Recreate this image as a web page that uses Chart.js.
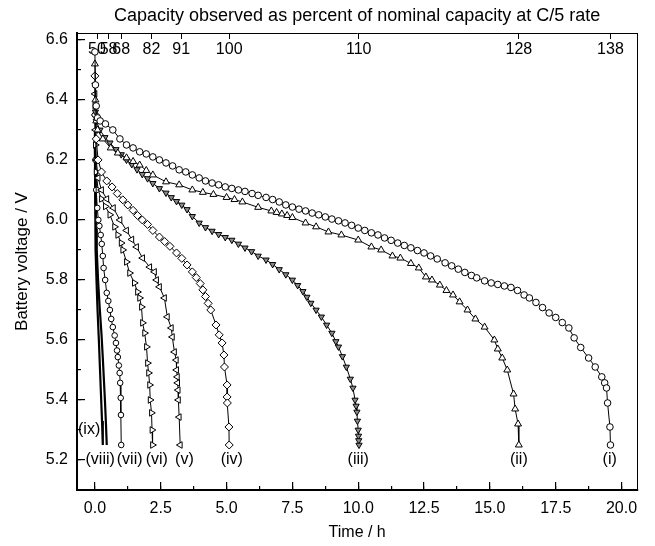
<!DOCTYPE html>
<html><head><meta charset="utf-8">
<script src="https://cdn.jsdelivr.net/npm/chart.js@4.4.0/dist/chart.umd.min.js"></script>
<style>html,body{margin:0;padding:0;background:#fff;}canvas{display:block;}</style>
</head><body>
<canvas id="c" width="655" height="546"></canvas>
<script>
// ---- data (time / h, voltage / V) ----
const t1 = [0,0.02,0.05,0.1,0.2,0.4,0.68,0.95,1.2,1.45,1.7,1.95,2.2,2.45,2.7,2.95,3.2,3.45,3.7,3.96,4.2,4.45,4.7,4.95,5.2,5.45,5.7,5.97,6.2,6.5,6.75,7.0,7.25,7.5,7.75,8.0,8.25,8.5,8.75,9.0,9.25,9.5,9.75,10.0,10.25,10.5,10.75,11.0,11.25,11.5,11.75,12.0,12.25,12.5,12.75,13.0,13.3,13.55,13.8,14.05,14.3,14.5,14.8,15.05,15.3,15.55,15.8,16.05,16.3,16.5,16.75,17.0,17.25,17.5,17.75,18.0,18.2,18.45,18.75,19.0,19.25,19.36,19.43,19.47,19.56,19.58];
const v1 = [6.56,6.45,6.38,6.34,6.33,6.32,6.30,6.27,6.25,6.24,6.227,6.22,6.21,6.2,6.19,6.18,6.167,6.16,6.15,6.14,6.13,6.123,6.117,6.11,6.105,6.1,6.095,6.088,6.082,6.075,6.068,6.06,6.05,6.043,6.036,6.03,6.023,6.017,6.01,6.003,5.997,5.99,5.982,5.973,5.965,5.957,5.95,5.94,5.932,5.923,5.915,5.907,5.898,5.89,5.88,5.87,5.857,5.847,5.836,5.825,5.815,5.807,5.797,5.79,5.785,5.78,5.775,5.765,5.75,5.74,5.725,5.708,5.69,5.675,5.658,5.64,5.607,5.575,5.54,5.51,5.477,5.457,5.44,5.39,5.31,5.25];

const t2 = [0,0.02,0.05,0.1,0.3,0.6,0.87,1.2,1.45,1.7,1.95,2.2,2.7,3.2,3.7,4.1,4.5,5.0,5.3,5.6,6.2,6.7,6.9,7.1,7.3,7.5,8.0,8.4,8.87,9.36,10.0,10.5,10.87,11.3,11.6,12.0,12.3,12.57,12.8,13.1,13.35,13.6,13.85,14.15,14.45,14.8,15.17,15.3,15.47,15.66,15.9,15.96,16.07,16.1];
const v2 = [6.52,6.4,6.33,6.3,6.27,6.24,6.223,6.207,6.195,6.183,6.165,6.15,6.127,6.117,6.1,6.092,6.085,6.075,6.068,6.06,6.042,6.03,6.025,6.02,6.015,6.008,5.99,5.977,5.96,5.95,5.933,5.91,5.9,5.88,5.873,5.855,5.84,5.81,5.8,5.783,5.765,5.75,5.727,5.7,5.67,5.643,5.6,5.57,5.54,5.5,5.42,5.37,5.32,5.25];

const t3 = [0,0.02,0.05,0.19,0.38,0.57,0.8,1.0,1.2,1.4,1.6,1.8,2.0,2.2,2.45,2.7,2.9,3.1,3.3,3.5,3.7,3.96,4.2,4.45,4.7,4.95,5.2,5.45,5.7,5.95,6.2,6.5,6.75,7.0,7.25,7.5,7.7,7.9,8.05,8.2,8.4,8.6,8.8,9.0,9.15,9.25,9.4,9.55,9.7,9.8,9.88,9.92,9.95,9.97,10.0,10.01,10.02,10.03];
const v3 = [6.45,6.36,6.33,6.3,6.275,6.257,6.235,6.218,6.2,6.185,6.168,6.152,6.138,6.122,6.105,6.09,6.075,6.062,6.05,6.035,6.012,5.99,5.975,5.963,5.952,5.942,5.933,5.92,5.907,5.895,5.88,5.867,5.852,5.835,5.818,5.8,5.782,5.762,5.743,5.723,5.7,5.677,5.65,5.623,5.595,5.577,5.545,5.51,5.47,5.44,5.4,5.38,5.36,5.33,5.3,5.28,5.265,5.25];

const t4 = [0,0.02,0.05,0.12,0.25,0.45,0.65,0.85,1.06,1.25,1.45,1.62,1.8,2.0,2.2,2.45,2.65,2.85,3.1,3.3,3.5,3.7,3.85,4.0,4.1,4.2,4.3,4.4,4.6,4.72,4.83,4.9,4.92,5.02,5.02,5.03,5.09,5.1];
const v4 = [6.48,6.35,6.27,6.2,6.16,6.13,6.11,6.088,6.067,6.05,6.032,6.015,6.0,5.985,5.965,5.943,5.928,5.912,5.89,5.872,5.85,5.827,5.808,5.788,5.767,5.745,5.722,5.7,5.65,5.617,5.59,5.55,5.51,5.45,5.41,5.39,5.31,5.25];

const t5 = [0,0.02,0.05,0.12,0.25,0.45,0.7,0.95,1.2,1.4,1.58,1.81,2.08,2.26,2.34,2.45,2.64,2.75,2.9,2.94,3.02,3.09,3.1,3.13,3.14,3.16,3.17,3.2,3.24];
const v5 = [6.42,6.3,6.2,6.14,6.1,6.07,6.04,6.0,5.965,5.935,5.91,5.873,5.843,5.827,5.8,5.777,5.74,5.677,5.64,5.61,5.56,5.533,5.5,5.477,5.457,5.433,5.4,5.343,5.25];

const t6 = [0,0.02,0.05,0.12,0.25,0.4,0.57,0.75,0.87,1.0,1.06,1.2,1.32,1.5,1.62,1.7,1.77,1.81,1.89,1.96,2.0,2.04,2.08,2.1,2.15,2.17,2.19];
const v6 = [6.38,6.25,6.16,6.1,6.07,6.045,6.017,5.977,5.95,5.923,5.9,5.86,5.823,5.79,5.76,5.74,5.71,5.657,5.623,5.577,5.523,5.49,5.45,5.4,5.357,5.3,5.25];

const t7 = [0,0.02,0.05,0.09,0.13,0.17,0.22,0.26,0.3,0.33,0.39,0.45,0.51,0.57,0.62,0.68,0.75,0.8,0.84,0.87,0.91,0.94,0.96,0.98,0.99,1.0];
const v7 = [6.35,6.2,6.1,6.04,6.0,5.98,5.95,5.92,5.88,5.84,5.8,5.757,5.73,5.7,5.67,5.643,5.615,5.59,5.565,5.543,5.515,5.49,5.457,5.407,5.35,5.25];

const t8 = [0,0.01,0.03,0.05,0.07,0.12,0.18,0.25,0.3,0.34,0.38,0.42,0.45];
const v8 = [6.3,6.15,6.05,5.97,5.9,5.8,5.71,5.62,5.54,5.47,5.4,5.32,5.25];

const t9 = [0,0.01,0.02,0.03,0.06,0.1,0.15,0.19,0.23,0.27,0.3];
const v9 = [6.25,6.1,5.98,5.9,5.8,5.7,5.6,5.51,5.42,5.33,5.25];

// curve labels
const curveLabels = ['(i)','(ii)','(iii)','(iv)','(v)','(vi)','(vii)','(viii)','(ix)'];
const curveLabelT = [19.55,16.1,10.0,5.2,3.4,2.35,1.32,0.2,-0.22];
const curveLabelV = [5.2,5.2,5.2,5.2,5.2,5.2,5.2,5.2,5.3];

// axes
const topTickTimes = [0.08,0.52,1.0,2.15,3.28,5.1,10.02,16.1,19.58];
const topTickLabels = ['50','58','68','82','91','100','110','128','138'];
const xTickValues = [0,2.5,5,7.5,10,12.5,15,17.5,20];
const yTickValues = [5.2,5.4,5.6,5.8,6.0,6.2,6.4,6.6];
const X_MIN = -0.68, X_MAX = 20.6, Y_MIN = 5.1, Y_MAX = 6.623;

const FAMILY = "'Liberation Sans', Arial, sans-serif";
Chart.defaults.font.family = FAMILY;
Chart.defaults.color = '#000';

function pts(t, v) { return t.map((x, i) => ({x: x, y: v[i]})); }
function series(t, v, style, rot, r, lw, fillCol) {
  return {
    data: pts(t, v), showLine: true, borderColor: '#000', borderWidth: lw || 1,
    pointStyle: style, pointRotation: rot, pointRadius: r, pointHoverRadius: r,
    pointBorderColor: '#000', pointBackgroundColor: fillCol || '#fff', pointBorderWidth: 1, tension: 0, fill: false
  };
}

const minorX = []; for (let k = 0; k <= 16; k++) minorX.push(k * 1.25);
const minorY = []; for (let k = 0; k <= 14; k++) minorY.push(5.2 + k * 0.1);

const labelPlugin = {
  id: 'curveLabels',
  afterDatasetsDraw(chart) {
    const {ctx, scales} = chart;
    ctx.save();
    ctx.font = '16px ' + FAMILY;
    ctx.fillStyle = '#000';
    ctx.textAlign = 'center';
    ctx.textBaseline = 'middle';
    curveLabels.forEach((s, i) => {
      ctx.fillText(s, scales.x.getPixelForValue(curveLabelT[i]), scales.y.getPixelForValue(curveLabelV[i]));
    });
    ctx.restore();
  }
};

new Chart(document.getElementById('c'), {
  type: 'scatter',
  data: {
    datasets: [
      series(t1, v1, 'circle', 0, 3.3),
      series(t2, v2, 'triangle', 0, 4),
      series(t3, v3, 'triangle', 180, 3.6, 1, '#8a8a8a'),
      series(t4, v4, 'rectRot', 0, 4),
      series(t5, v5, 'triangle', 270, 3.8),
      series(t6, v6, 'triangle', 90, 3.8),
      series(t7, v7, 'circle', 0, 2.8),
      series(t8, v8, 'circle', 0, 0, 2.2),
      series(t9, v9, 'circle', 0, 0, 2.2)
    ]
  },
  options: {
    responsive: false, animation: false,
    layout: {padding: 0, autoPadding: false},
    plugins: {legend: {display: false}, tooltip: {enabled: false}, title: {display: false}},
    scales: {
      x: {
        type: 'linear', axis: 'x', position: 'bottom', min: X_MIN, max: X_MAX, weight: 0,
        afterBuildTicks: s => { s.ticks = xTickValues.map(v => ({value: v})); },
        afterFit: s => { s.height = 56; },
        ticks: {callback: v => Number(v).toFixed(1), font: {size: 16}, padding: 17.4, autoSkip: false, maxRotation: 0, minRotation: 0, color: '#000'},
        grid: {drawOnChartArea: false, drawTicks: true, tickLength: -8, color: '#000', lineWidth: 1.2},
        border: {display: true, color: '#000', width: 2},
        title: {display: true, text: 'Time / h', font: {size: 16}, padding: {top: 0, bottom: 4}, color: '#000'}
      },
      xMinor: {
        type: 'linear', axis: 'x', position: 'bottom', min: X_MIN, max: X_MAX, weight: -1,
        afterBuildTicks: s => { s.ticks = minorX.map(v => ({value: v})); },
        afterFit: s => { s.height = 0; },
        ticks: {display: false},
        grid: {drawOnChartArea: false, drawTicks: true, tickLength: -4, color: '#000', lineWidth: 1.2},
        border: {display: false}
      },
      x2: {
        type: 'linear', axis: 'x', position: 'top', min: X_MIN, max: X_MAX,
        afterBuildTicks: s => { s.ticks = topTickTimes.map(v => ({value: v})); },
        afterFit: s => { s.height = 33; },
        ticks: {callback: (v, i) => topTickLabels[i], font: {size: 16}, mirror: true, padding: 7.4, autoSkip: false, maxRotation: 0, minRotation: 0, color: '#000'},
        grid: {drawOnChartArea: false, drawTicks: true, tickLength: -6, color: '#000', lineWidth: 1},
        border: {display: true, color: '#000', width: 1},
        title: {display: true, text: 'Capacity observed as percent of nominal capacity at C/5 rate', font: {size: 18}, padding: {top: 5, bottom: 0}, color: '#000'}
      },
      y: {
        type: 'linear', axis: 'y', position: 'left', min: Y_MIN, max: Y_MAX, weight: 0,
        afterBuildTicks: s => { s.ticks = yTickValues.map(v => ({value: v})); },
        afterFit: s => { s.width = 77; },
        ticks: {callback: v => Number(v).toFixed(1), font: {size: 16}, padding: 17, autoSkip: false, color: '#000'},
        grid: {drawOnChartArea: false, drawTicks: true, tickLength: -8, color: '#000', lineWidth: 1.2},
        border: {display: true, color: '#000', width: 2},
        title: {display: true, text: 'Battery voltage / V', font: {size: 17}, padding: {top: 12, bottom: 0}, color: '#000'}
      },
      yMinor: {
        type: 'linear', axis: 'y', position: 'left', min: Y_MIN, max: Y_MAX, weight: -1,
        afterBuildTicks: s => { s.ticks = minorY.map(v => ({value: v})); },
        afterFit: s => { s.width = 0; },
        ticks: {display: false},
        grid: {drawOnChartArea: false, drawTicks: true, tickLength: -4, color: '#000', lineWidth: 1.2},
        border: {display: false}
      },
      y2: {
        type: 'linear', axis: 'y', position: 'right', min: Y_MIN, max: Y_MAX,
        afterFit: s => { s.width = 14; },
        ticks: {display: false},
        grid: {drawOnChartArea: false, drawTicks: false},
        border: {display: true, color: '#000', width: 1}
      }
    }
  },
  plugins: [labelPlugin]
});
</script>
</body></html>
